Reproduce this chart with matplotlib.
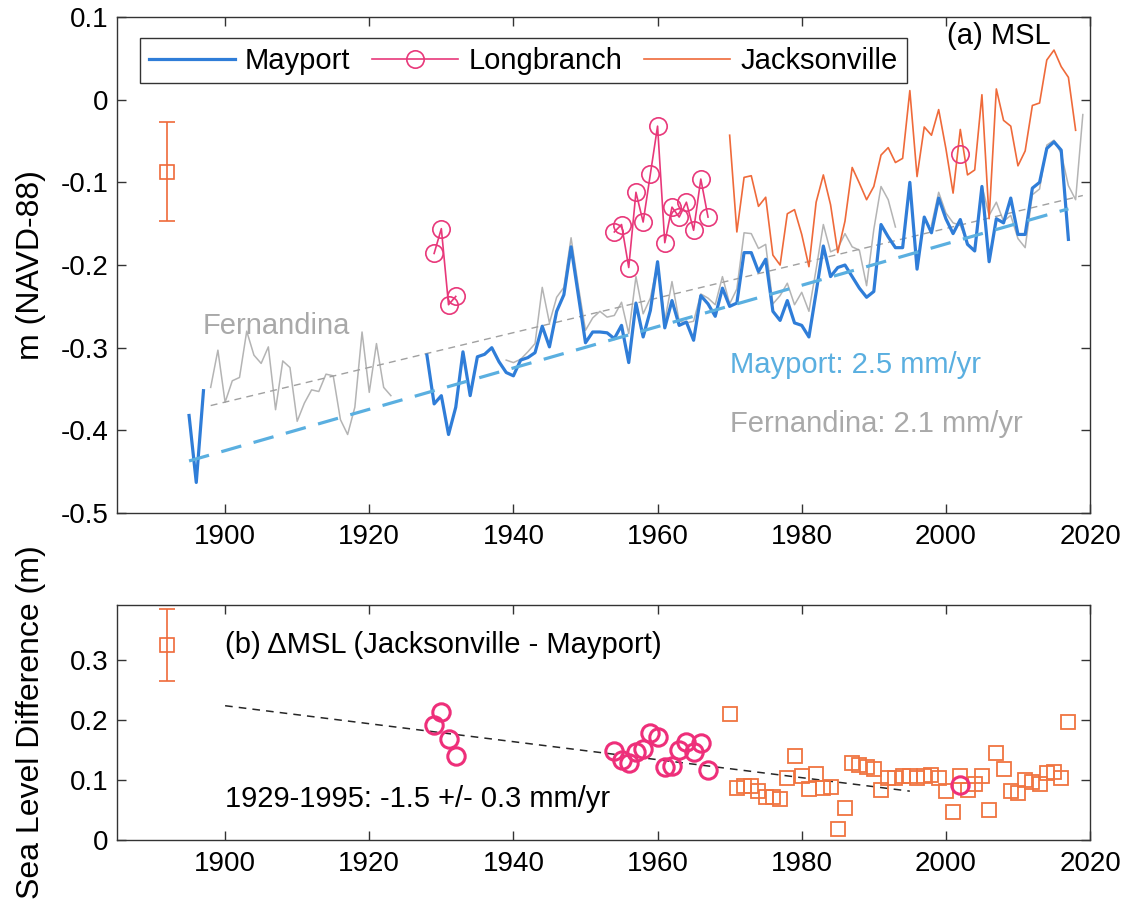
import numpy as np
import matplotlib
matplotlib.use("Agg")
import matplotlib.pyplot as plt
from matplotlib.ticker import FuncFormatter, FixedLocator
from matplotlib.lines import Line2D

plt.rcParams['font.family'] = ['Liberation Sans', 'DejaVu Sans']
plt.rcParams['axes.unicode_minus'] = False

# ---------------- annual mean sea level, m (NAVD-88) ----------------
mayport_years = [1895, 1896, 1897] + list(range(1928, 2018))
mayport_msl = [
    -0.382, -0.463, -0.352,
    -0.309, -0.368, -0.358, -0.405, -0.372, -0.305, -0.358, -0.311, -0.308, -0.300,
    -0.317, -0.330, -0.334, -0.315, -0.312, -0.306, -0.274, -0.299, -0.256, -0.236,
    -0.178, -0.236, -0.294, -0.281, -0.281, -0.282, -0.289, -0.273, -0.318, -0.246,
    -0.287, -0.255, -0.196, -0.276, -0.243, -0.273, -0.269, -0.291, -0.237, -0.247,
    -0.262, -0.228, -0.250, -0.246, -0.185, -0.185, -0.208, -0.193, -0.256, -0.267,
    -0.243, -0.270, -0.273, -0.287, -0.233, -0.177, -0.214, -0.203, -0.200, -0.214,
    -0.228, -0.239, -0.232, -0.151, -0.166, -0.179, -0.179, -0.100, -0.205, -0.142,
    -0.161, -0.119, -0.144, -0.162, -0.145, -0.175, -0.183, -0.105, -0.196, -0.144,
    -0.149, -0.119, -0.163, -0.163, -0.107, -0.100, -0.059, -0.051, -0.061, -0.169,
]

fernandina_years = list(range(1898, 1924)) + list(range(1939, 1994)) + list(range(1998, 2020))
fernandina_msl = [
    -0.348, -0.303, -0.366, -0.340, -0.336, -0.280, -0.309, -0.319, -0.299, -0.375,
    -0.316, -0.324, -0.389, -0.367, -0.351, -0.353, -0.332, -0.334, -0.387, -0.405,
    -0.372, -0.281, -0.354, -0.295, -0.348, -0.358,
    -0.315, -0.318, -0.314, -0.305, -0.295, -0.227, -0.270, -0.239, -0.227, -0.167,
    -0.225, -0.279, -0.264, -0.256, -0.263, -0.261, -0.245, -0.283, -0.214, -0.259,
    -0.240, -0.198, -0.268, -0.220, -0.268, -0.270, -0.268, -0.235, -0.240, -0.248,
    -0.214, -0.247, -0.229, -0.161, -0.162, -0.180, -0.175, -0.247, -0.237, -0.222,
    -0.248, -0.233, -0.256, -0.205, -0.151, -0.184, -0.180, -0.162, -0.178, -0.182,
    -0.225, -0.157, -0.105, -0.121, -0.154,
    -0.152, -0.112, -0.137, -0.149, -0.152, -0.174, -0.182, -0.104, -0.140, -0.124,
    -0.147, -0.140, -0.168, -0.179, -0.115, -0.108, -0.055, -0.049, -0.065, -0.104,
    -0.121, -0.018,
]

jacksonville_years = list(range(1970, 2019))
jacksonville_msl = [
    -0.043, -0.160, -0.094, -0.092, -0.129, -0.118, -0.188, -0.200, -0.138, -0.133,
    -0.163, -0.202, -0.124, -0.091, -0.127, -0.185, -0.147, -0.082, -0.101, -0.121,
    -0.105, -0.067, -0.058, -0.076, -0.071, 0.011, -0.093, -0.033, -0.043, -0.012,
    -0.059, -0.113, -0.036, -0.091, -0.085, 0.006, -0.144, 0.013, -0.025, -0.032,
    -0.080, -0.062, -0.007, -0.004, 0.048, 0.060, 0.040, 0.027, -0.037,
]

longbranch_years = [1929, 1930, 1931, 1932] + list(range(1954, 1968)) + [2002]
longbranch_msl = [
    -0.186, -0.156, -0.248, -0.238,
    -0.160, -0.151, -0.203, -0.112, -0.148, -0.090, -0.032, -0.173, -0.130, -0.142,
    -0.124, -0.158, -0.096, -0.142,
    -0.066,
]

# ---------------- Jacksonville minus Mayport, m ----------------
dmsl_jax_years = list(range(1970, 2018))
dmsl_jax = [
    0.211, 0.087, 0.090, 0.090, 0.081, 0.072, 0.071, 0.069, 0.103, 0.140,
    0.106, 0.085, 0.110, 0.086, 0.088, 0.018, 0.053, 0.129, 0.125, 0.121,
    0.119, 0.083, 0.104, 0.103, 0.106, 0.106, 0.104, 0.106, 0.108, 0.103,
    0.082, 0.046, 0.107, 0.083, 0.094, 0.107, 0.050, 0.145, 0.118, 0.082,
    0.079, 0.100, 0.097, 0.094, 0.111, 0.114, 0.103, 0.197,
]
dmsl_lb_years = [1929, 1930, 1931, 1932] + list(range(1954, 1968)) + [2002]
dmsl_lb = [
    0.192, 0.214, 0.168, 0.140,
    0.148, 0.133, 0.128, 0.146, 0.151, 0.179, 0.171, 0.121, 0.123, 0.150,
    0.164, 0.147, 0.161, 0.117,
    0.091,
]

# linear trends (rates in mm/yr)
mayport_rate, mayport_span, mayport_start = 2.5, (1895, 2017), -0.437
fernandina_rate, fernandina_span, fernandina_start = 2.1, (1898, 2019), -0.370
dmsl_rate, dmsl_rate_err, dmsl_span, dmsl_start = -1.5, 0.3, (1929, 1995), 0.224
dmsl_line_span = (1900, 1995)

# datum uncertainty bars
err_year = 1892
err_top_center, err_bot_center, err_half = -0.087, 0.326, 0.06

# ---------------- styling ----------------
C_MAY = '#2f7dd8'
C_MAY_TR = '#5aafe0'
C_FER = '#b4b4b4'
C_FER_TXT = '#a9a9a9'
C_JAX = '#ef6a3a'
C_LB = '#e8387a'
C_SPINE = '0.2'


def with_gaps(years, values):
    """Insert NaN wherever consecutive years are not adjacent so lines break."""
    yrs, vals = [years[0]], [values[0]]
    for i in range(1, len(years)):
        if years[i] - years[i - 1] > 1:
            yrs.append(np.nan)
            vals.append(np.nan)
        yrs.append(years[i])
        vals.append(values[i])
    return np.array(yrs, float), np.array(vals, float)


def trend(span, start, rate_mm):
    x = np.array(span, float)
    return x, start + rate_mm / 1000.0 * (x - span[0])


def style_axes(ax, yticks):
    for s in ax.spines.values():
        s.set_color(C_SPINE)
        s.set_linewidth(1.0)
    ax.set_xlim(1885, 2020)
    ax.xaxis.set_major_locator(FixedLocator(range(1900, 2021, 20)))
    ax.yaxis.set_major_locator(FixedLocator(yticks))
    ax.yaxis.set_major_formatter(FuncFormatter(lambda v, _: f"{round(v, 3) + 0:g}"))
    ax.tick_params(direction='in', length=6.5, width=1.0, top=True, right=True,
                   color=C_SPINE, labelcolor='black', labelsize=20)
    ax.tick_params(axis='x', pad=8)
    ax.tick_params(axis='y', pad=6)


fig = plt.figure(figsize=(11.27, 9.05), dpi=100)
ax1 = fig.add_axes([0.1038, 0.4331, 0.8634, 0.5481])
ax2 = fig.add_axes([0.1038, 0.0718, 0.8634, 0.2597])

# ---------------- (a) MSL ----------------
fx, fy = with_gaps(fernandina_years, fernandina_msl)
ax1.plot(fx, fy, color=C_FER, lw=1.1, zorder=2)
tx, ty = trend(fernandina_span, fernandina_start, fernandina_rate)
ax1.plot(tx, ty, color='#a0a0a0', lw=1.0, dashes=(5, 3.8), zorder=2)

mx, my = with_gaps(mayport_years, mayport_msl)
ax1.plot(mx, my, color=C_MAY, lw=2.3, zorder=3)
tx, ty = trend(mayport_span, mayport_start, mayport_rate)
ax1.plot(tx, ty, color=C_MAY_TR, lw=2.3, dashes=(6.5, 4), zorder=4)

ax1.plot(jacksonville_years, jacksonville_msl, color=C_JAX, lw=1.2, zorder=3)

lx, ly = with_gaps(longbranch_years, longbranch_msl)
ax1.plot(lx, ly, color=C_LB, lw=1.2, marker='o', ms=12.5, mfc='none',
         mec=C_LB, mew=1.2, zorder=5)

ax1.errorbar([err_year], [err_top_center], yerr=[err_half], fmt='s', ms=10.5,
             mfc='none', mec=C_JAX, mew=1.2, ecolor=C_JAX, elinewidth=1.2,
             capsize=6, capthick=1.2, zorder=5)

ax1.set_ylim(-0.5, 0.1)
style_axes(ax1, np.round(np.arange(-0.5, 0.101, 0.1), 1))
ax1.set_ylabel('m (NAVD-88)', fontsize=23)
ax1.yaxis.set_label_coords(-0.073, 0.5)

ax1.text(1896.9, -0.283, 'Fernandina', color=C_FER_TXT, fontsize=21, va='baseline')
ax1.text(1970.1, -0.331, f'Mayport: {mayport_rate} mm/yr', color=C_MAY_TR,
         fontsize=21, va='baseline')
ax1.text(1970.1, -0.402, f'Fernandina: {fernandina_rate} mm/yr', color=C_FER_TXT,
         fontsize=21, va='baseline')
ax1.text(2000.2, 0.0676, '(a) MSL', fontsize=21, va='baseline')

handles = [
    Line2D([], [], color=C_MAY, lw=2.3),
    Line2D([], [], color=C_LB, lw=1.2, marker='o', ms=12.5, mfc='none', mew=1.2),
    Line2D([], [], color=C_JAX, lw=1.2),
]
leg = ax1.legend(handles, ['Mayport', 'Longbranch', 'Jacksonville'], ncol=3,
                 loc='upper left', bbox_to_anchor=(0.0236, 0.9577),
                 borderaxespad=0, fontsize=21, frameon=True, fancybox=False,
                 handlelength=2.95, handletextpad=0.35, columnspacing=0.75,
                 borderpad=0.3)
leg.get_frame().set_edgecolor('black')
leg.get_frame().set_linewidth(1.0)

# ---------------- (b) delta MSL ----------------
tx, ty = trend(dmsl_line_span, dmsl_start, dmsl_rate)
ax2.plot(tx, ty, color='0.15', lw=1.1, dashes=(5, 4), zorder=2)
ax2.plot(dmsl_jax_years, dmsl_jax, ls='none', marker='s', ms=10.5, mfc='none',
         mec='#f07440', mew=1.3, zorder=3)
ax2.plot(dmsl_lb_years, dmsl_lb, ls='none', marker='o', ms=12.5, mfc='none',
         mec='#ee2f7a', mew=2.2, zorder=4)
ax2.errorbar([err_year], [err_bot_center], yerr=[err_half], fmt='s', ms=10.5,
             mfc='none', mec=C_JAX, mew=1.2, ecolor=C_JAX, elinewidth=1.2,
             capsize=6, capthick=1.2, zorder=5)

ax2.set_ylim(0, 0.392)
style_axes(ax2, [0, 0.1, 0.2, 0.3])
ax2.set_ylabel('Sea Level Difference (m)', fontsize=23)
ax2.yaxis.set_label_coords(-0.073, 0.5)

ax2.text(1900, 0.312, '(b) \u0394MSL (Jacksonville - Mayport)', fontsize=21,
         va='baseline')
ax2.text(1900, 0.0556,
         f'{dmsl_span[0]}-{dmsl_span[1]}: {dmsl_rate} +/- {dmsl_rate_err} mm/yr',
         fontsize=21, va='baseline')

fig.savefig('out.png', dpi=100)
